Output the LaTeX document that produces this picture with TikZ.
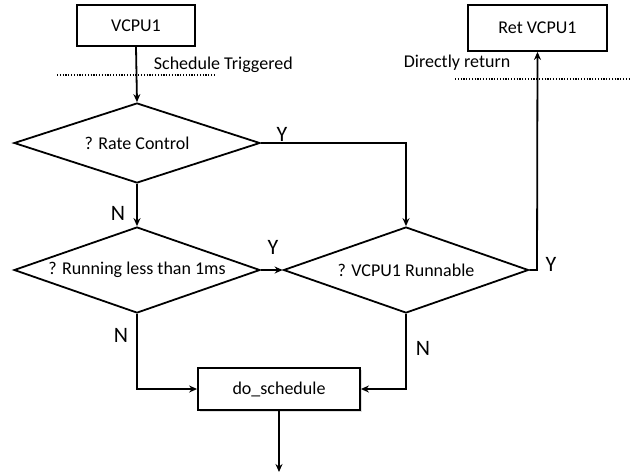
\documentclass[tikz,border=0pt]{standalone}
\usepackage{fontspec}
\setmainfont{Carlito}
\usetikzlibrary{shapes.geometric,arrows.meta,shadows}
\begin{document}
\begin{tikzpicture}[x=1pt,y=-1pt,
  line width=1.8pt,
  >={Stealth[length=8pt,width=7pt]},
  txt/.style={font=\fontsize{18}{21}\selectfont},
  yn/.style={font=\fontsize{22}{25}\selectfont, inner sep=0pt},
  procbox/.style={draw, fill=white, txt, minimum height=41pt, inner sep=0pt},
  decide/.style={draw, fill=white, txt, inner sep=0pt, shape=diamond},
  dots/.style={dash pattern=on 1.2pt off 1.6pt, line width=1.4pt}]
\useasboundingbox (0,0) rectangle (631,475);

% process boxes
\node[procbox, minimum width=118pt] (vcpu) at (136,25.5) {VCPU1};
\node[procbox, minimum width=139pt, minimum height=46pt] (ret) at (537.5,28) {Ret VCPU1};
\node[procbox, minimum width=162pt, minimum height=42pt,
      drop shadow={shadow xshift=1.5pt, shadow yshift=-1.5pt, opacity=0.25}] (dosched) at (279,389) {do\_schedule};

% decisions
\node[decide, aspect=3.07, minimum width=246pt, minimum height=80pt] (rate) at (137,143) {? Rate Control};
\node[decide, aspect=2.86, minimum width=246pt, minimum height=86pt] (run) at (137,270) {? Running less than 1ms};
\node[decide, aspect=2.85, minimum width=245pt, minimum height=86pt] (runnable) at (406,270) {? VCPU1 Runnable};

% event lines and their captions
\coordinate (trigA) at (57,75);
\coordinate (trigB) at (215,75);
\coordinate (retA) at (455,79);
\coordinate (retB) at (631,79);
\node[txt, anchor=west, inner sep=0pt] (trigtxt) at (153,65) {Schedule Triggered};
\node[txt, anchor=west, inner sep=0pt] (rettxt) at (403,63) {Directly return};
\draw[dots] (trigA) -- (trigB);
\draw[dots] (retA) -- (retB);

% connectors
\draw[->] (vcpu.south) -- (rate.north);
\draw[->] (rate.south) -- (run.north);
\draw[->] (rate.east) -| (runnable.north);
\draw[->] (run.east) -- (runnable.west);
\coordinate (retturn) at (537,270);
\draw[->] (runnable.east) -- (retturn) -- (ret.south);
\draw[->] (run.south) |- (dosched.west);
\draw[->] (runnable.south) |- (dosched.east);
\coordinate (exit) at (279,472);
\draw[->] (dosched.south) -- (exit);

% branch labels
\node[yn] (y1) at (282,134) {Y};
\node[yn] (n1) at (118,213) {N};
\node[yn] (y2) at (273,247) {Y};
\node[yn] (y3) at (551,264) {Y};
\node[yn] (n2) at (121,335) {N};
\node[yn] (n3) at (423,348) {N};
\end{tikzpicture}
\end{document}
